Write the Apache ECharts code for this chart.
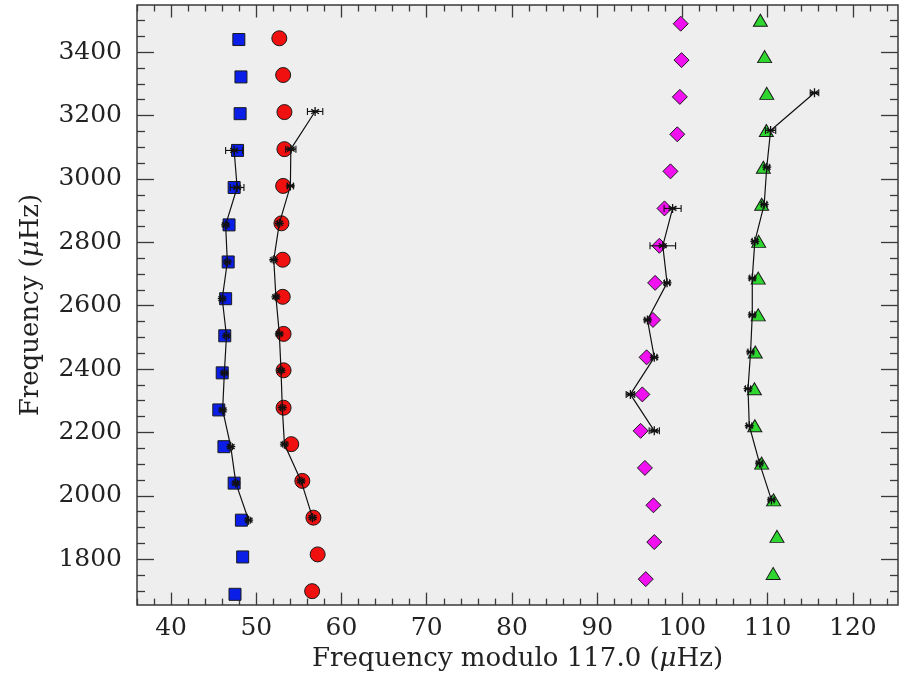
<!DOCTYPE html>
<html>
<head>
<meta charset="utf-8">
<script src="https://cdn.jsdelivr.net/npm/echarts@6/dist/echarts.min.js"></script>
<style>
html,body{margin:0;padding:0;background:#fff;}
#chart{width:908px;height:677px;}
</style>
</head>
<body>
<div id="chart"></div>
<script>
// ---- tick values ----
const xMajor = [40, 50, 60, 70, 80, 90, 100, 110, 120];
const xMinor = [36, 38, 42, 44, 46, 48, 52, 54, 56, 58, 62, 64, 66, 68, 72, 74, 76, 78, 82, 84, 86, 88, 92, 94, 96, 98, 102, 104, 106, 108, 112, 114, 116, 118, 122, 124];
const yMajor = [1800, 2000, 2200, 2400, 2600, 2800, 3000, 3200, 3400];
const yMinor = [1700, 1750, 1850, 1900, 1950, 2050, 2100, 2150, 2250, 2300, 2350, 2450, 2500, 2550, 2650, 2700, 2750, 2850, 2900, 2950, 3050, 3100, 3150, 3250, 3300, 3350, 3450, 3500];

// ---- observed (blue squares) ----
const blueObsX = [47.95, 48.2, 48.1, 47.8, 47.4, 46.8, 46.7, 46.4, 46.3, 46.0, 45.6, 46.2, 47.4, 48.25, 48.4, 47.5];
const blueObsY = [3440, 3322, 3206, 3090, 2973, 2855, 2738, 2622, 2505, 2388, 2271, 2155, 2040, 1923, 1807, 1689];
// ---- observed (red circles) ----
const redObsX = [52.7, 53.15, 53.3, 53.3, 53.15, 52.95, 53.1, 53.1, 53.2, 53.2, 53.2, 54.1, 55.4, 56.7, 57.2, 56.55];
const redObsY = [3444, 3328, 3211, 3094, 2978, 2860, 2745, 2628, 2511, 2396, 2278, 2163, 2047, 1931, 1815, 1699];
// ---- observed (magenta diamonds) ----
const magObsX = [99.8, 99.9, 99.7, 99.4, 98.6, 97.9, 97.3, 96.8, 96.55, 95.8, 95.3, 95.1, 95.6, 96.6, 96.7, 95.7];
const magObsY = [3490, 3375, 3259, 3141, 3024, 2907, 2789, 2672, 2555, 2437, 2320, 2205, 2088, 1970, 1854, 1737];
// ---- observed (green triangles) ----
const grnObsX = [109.15, 109.65, 109.9, 109.85, 109.5, 109.3, 108.95, 108.9, 108.9, 108.55, 108.45, 108.5, 109.3, 110.7, 111.1, 110.65];
const grnObsY = [3501, 3386, 3270, 3153, 3037, 2920, 2803, 2687, 2571, 2454, 2338, 2221, 2103, 1987, 1872, 1755];

// ---- model / comparison (black asterisks with error bars) ----
const blueModX = [47.4, 47.75, 46.4, 46.6, 46.0, 46.5, 46.25, 46.05, 47.0, 47.6, 49.1];
const blueModY = [3090, 2973, 2855, 2738, 2622, 2505, 2388, 2271, 2155, 2040, 1923];
const blueModErr = [1.0, 0.8, 0.2, 0.2, 0.2, 0.2, 0.2, 0.2, 0.2, 0.2, 0.2];

const redModX = [56.9, 54.05, 54.0, 52.7, 52.05, 52.3, 52.7, 52.9, 53.05, 53.3, 55.25, 56.6];
const redModY = [3213, 3094, 2978, 2860, 2745, 2628, 2511, 2396, 2278, 2163, 2047, 1931];
const redModErr = [0.9, 0.6, 0.35, 0.2, 0.2, 0.2, 0.2, 0.2, 0.2, 0.2, 0.2, 0.2];

const magModX = [98.85, 97.7, 98.2, 95.9, 96.7, 93.9, 96.7];
const magModY = [2907, 2789, 2672, 2555, 2437, 2320, 2205];
const magModErr = [1.0, 1.5, 0.3, 0.3, 0.3, 0.5, 0.6];

const grnModX = [115.5, 110.35, 109.9, 109.6, 108.5, 108.2, 108.2, 108.0, 107.7, 107.85, 109.05, 110.45];
const grnModY = [3272, 3153, 3037, 2920, 2803, 2687, 2571, 2454, 2338, 2221, 2103, 1987];
const grnModErr = [0.5, 0.6, 0.3, 0.3, 0.3, 0.3, 0.3, 0.3, 0.3, 0.3, 0.3, 0.3];

const X_MIN = 36, X_MAX = 125.3, Y_MIN = 1655, Y_MAX = 3549;
const FONT = 'DejaVu Serif';
const TXT = '#222';
const FRAME = '#3a3a3a';
const TICK_FS = 25, NAME_FS = 26;

function pairs(xs, ys) { return xs.map((x, i) => [x, ys[i]]); }
function triples(xs, ys, es) { return xs.map((x, i) => [x, ys[i], es[i]]); }

const ASTER = 'path://M5,0L5,10M0.67,2.5L9.33,7.5M0.67,7.5L9.33,2.5M0,5L10,5';

function xAx(pos, ticks, len, labels) {
  return {
    type: 'value', min: X_MIN, max: X_MAX, position: pos,
    axisLine: { show: false, onZero: false },
    splitLine: { show: false },
    axisTick: { show: true, inside: true, length: len, customValues: ticks, lineStyle: { color: FRAME, width: 1.3 } },
    axisLabel: labels ? { show: true, customValues: ticks, formatter: v => String(v), fontFamily: FONT, fontSize: TICK_FS, color: TXT, margin: 11 } : { show: false }
  };
}
function yAx(pos, ticks, len, labels) {
  return {
    type: 'value', min: Y_MIN, max: Y_MAX, position: pos,
    axisLine: { show: false, onZero: false },
    splitLine: { show: false },
    axisTick: { show: true, inside: true, length: len, customValues: ticks, lineStyle: { color: FRAME, width: 1.3 } },
    axisLabel: labels ? { show: true, customValues: ticks, formatter: v => String(v), fontFamily: FONT, fontSize: TICK_FS, color: TXT, margin: 15 } : { show: false }
  };
}

const xAxes = [
  xAx('bottom', xMajor, 12.5, true),
  xAx('bottom', xMinor, 6.5, false),
  xAx('top', xMajor, 12.5, false),
  xAx('top', xMinor, 6.5, false)
];
xAxes[0].name = 'Frequency modulo 117.0 ({mu|μ}Hz)';
xAxes[0].nameLocation = 'middle';
xAxes[0].nameGap = 40;
xAxes[0].nameTextStyle = { fontFamily: FONT, fontSize: NAME_FS, color: TXT, rich: { mu: { fontFamily: FONT, fontSize: NAME_FS, fontStyle: 'italic', color: TXT } } };

const yAxes = [
  yAx('left', yMajor, 17, true),
  yAx('left', yMinor, 8, false),
  yAx('right', yMajor, 17, false),
  yAx('right', yMinor, 8, false)
];
yAxes[0].name = 'Frequency ({mu|μ}Hz)';
yAxes[0].nameLocation = 'middle';
yAxes[0].nameGap = 93;
yAxes[0].nameTextStyle = { fontFamily: FONT, fontSize: NAME_FS, color: TXT, rich: { mu: { fontFamily: FONT, fontSize: NAME_FS, fontStyle: 'italic', color: TXT } } };

function obsSeries(xs, ys, symbol, size, color) {
  return {
    type: 'scatter', xAxisIndex: 0, yAxisIndex: 0,
    data: pairs(xs, ys), symbol: symbol, symbolSize: size,
    itemStyle: { color: color, borderColor: '#1a1a1a', borderWidth: 1, opacity: 1 },
    emphasis: { disabled: true }, z: 2
  };
}
function errSeries(xs, ys, es) {
  return {
    type: 'custom', xAxisIndex: 0, yAxisIndex: 0,
    data: triples(xs, ys, es), z: 3, silent: true,
    renderItem: function (params, api) {
      const x = api.value(0), y = api.value(1), e = api.value(2);
      const p1 = api.coord([x - e, y]);
      const p2 = api.coord([x + e, y]);
      const c = 3.5;
      const st = { stroke: '#111', lineWidth: 1.1 };
      return {
        type: 'group', children: [
          { type: 'line', shape: { x1: p1[0], y1: p1[1], x2: p2[0], y2: p2[1] }, style: st },
          { type: 'line', shape: { x1: p1[0], y1: p1[1] - c, x2: p1[0], y2: p1[1] + c }, style: st },
          { type: 'line', shape: { x1: p2[0], y1: p2[1] - c, x2: p2[0], y2: p2[1] + c }, style: st }
        ]
      };
    }
  };
}
function modSeries(xs, ys) {
  return {
    type: 'line', xAxisIndex: 0, yAxisIndex: 0,
    data: pairs(xs, ys), symbol: ASTER, symbolSize: 9, showAllSymbol: true,
    lineStyle: { color: '#111', width: 1.2 },
    itemStyle: { color: '#111', borderColor: '#111', borderWidth: 1.3 },
    emphasis: { disabled: true }, z: 4, animation: false
  };
}

const chart = echarts.init(document.getElementById('chart'), null, { renderer: 'canvas' });
chart.setOption({
  animation: false,
  backgroundColor: '#ffffff',
  grid: { left: 137, right: 10, top: 5, bottom: 69, show: true, backgroundColor: '#eeeeee', borderColor: FRAME, borderWidth: 1.5 },
  xAxis: xAxes,
  yAxis: yAxes,
  series: [
    obsSeries(blueObsX, blueObsY, 'rect', 12, '#0a1ee8'),
    obsSeries(redObsX, redObsY, 'circle', 15, '#f01010'),
    obsSeries(magObsX, magObsY, 'diamond', [15, 15], '#f010f0'),
    obsSeries(grnObsX, grnObsY, 'triangle', [14, 12], '#2fd62f'),
    errSeries(blueModX, blueModY, blueModErr),
    errSeries(redModX, redModY, redModErr),
    errSeries(magModX, magModY, magModErr),
    errSeries(grnModX, grnModY, grnModErr),
    modSeries(blueModX, blueModY),
    modSeries(redModX, redModY),
    modSeries(magModX, magModY),
    modSeries(grnModX, grnModY)
  ]
});
</script>
</body>
</html>
